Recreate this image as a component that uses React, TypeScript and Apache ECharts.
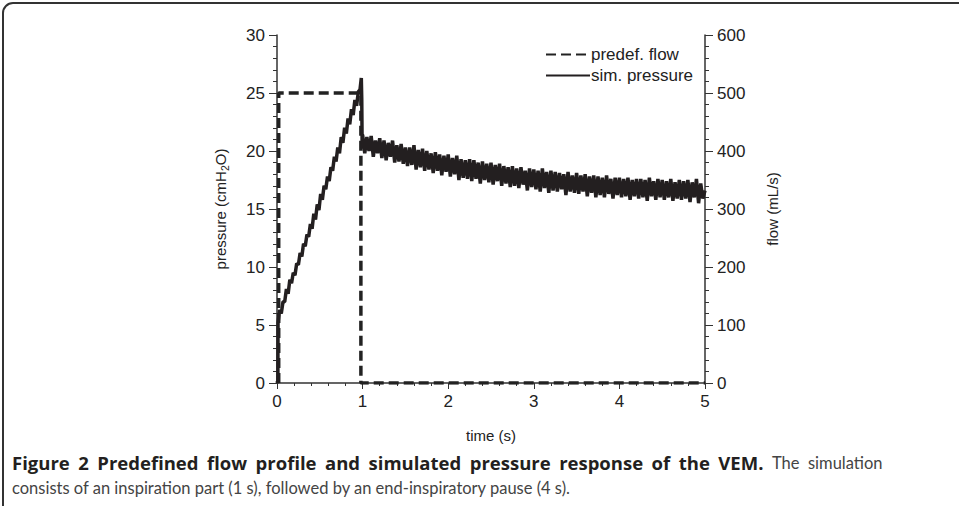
import React, { useEffect, useRef } from "react";
import * as echarts from "echarts";

// time (s) and pressure (cmH2O) during inspiration
const riseTimes = [0, 0.01, 0.012, 0.03, 0.05, 0.07, 0.09, 0.11, 0.13, 0.15, 0.17, 0.19, 0.21, 0.23, 0.25, 0.27, 0.29, 0.31, 0.33, 0.35, 0.37, 0.39, 0.41, 0.43, 0.45, 0.47, 0.49, 0.51, 0.53, 0.55, 0.57, 0.59, 0.61, 0.63, 0.65, 0.67, 0.69, 0.71, 0.73, 0.75, 0.77, 0.79, 0.81, 0.83, 0.85, 0.87, 0.89, 0.91, 0.93, 0.95, 0.97, 0.985, 0.99, 0.995];
const risePressure = [0, 0.2, 5.2, 6.3, 6.0, 7.0, 7.0, 8.1, 7.7, 8.9, 8.6, 9.5, 9.3, 10.3, 10.2, 11.2, 10.9, 12.0, 11.8, 12.8, 12.6, 13.7, 13.3, 14.6, 14.1, 15.4, 14.9, 16.3, 15.8, 17.0, 16.7, 17.8, 17.4, 18.6, 18.3, 19.5, 19.1, 20.3, 19.8, 21.2, 20.7, 22.0, 21.5, 22.8, 22.3, 23.6, 23.1, 24.4, 23.9, 25.1, 25.3, 26.3, 24.5, 20.2];

// pressure (cmH2O) during the end-inspiratory pause, sampled every 0.025 s from 1 s to 5 s
const pauseStart = 1;
const pauseStep = 0.025;
const pausePressure = [
  21.4, 19.8, 21.2, 20.0, 21.3, 19.5, 20.9, 19.8, 21.1, 19.4,
  20.9, 19.2, 20.7, 19.5, 20.9, 19.0, 20.5, 19.1, 20.6, 18.9,
  20.3, 18.7, 20.3, 18.8, 20.5, 18.4, 20.1, 18.6, 20.2, 18.3,
  20.0, 18.4, 19.8, 18.1, 19.9, 18.3, 19.7, 17.9, 19.6, 18.2,
  19.7, 17.8, 19.4, 18.0, 19.6, 17.5, 19.3, 17.7, 19.2, 17.6,
  19.3, 17.4, 19.2, 17.6, 19.0, 17.2, 19.1, 17.5, 18.9, 17.3,
  19.0, 17.1, 18.8, 17.4, 18.9, 17.0, 18.7, 17.2, 18.6, 16.9,
  18.7, 17.0, 18.5, 16.8, 18.6, 17.1, 18.3, 16.6, 18.5, 16.9,
  18.4, 16.7, 18.3, 16.5, 18.5, 16.8, 18.2, 16.4, 18.3, 16.6,
  18.2, 16.5, 18.1, 16.7, 18.0, 16.2, 18.2, 16.5, 17.9, 16.4,
  18.1, 16.3, 17.9, 16.5, 18.0, 16.1, 17.8, 16.4, 17.9, 16.0,
  17.8, 16.2, 17.7, 16.0, 17.9, 16.3, 17.6, 15.9, 17.7, 16.2,
  17.7, 16.0, 17.6, 16.1, 17.7, 15.8, 17.5, 16.1, 17.6, 15.9,
  17.6, 16.0, 17.5, 15.7, 17.7, 16.1, 17.4, 15.8, 17.6, 16.0,
  17.5, 15.8, 17.4, 16.0, 17.6, 15.7, 17.3, 15.9, 17.5, 15.8,
  17.4, 15.9, 17.5, 15.6, 17.3, 16.0, 17.6, 15.5, 17.2, 15.9,
  16.6,
];

// predefined flow profile (mL/s)
const flowTimes = [0.02, 0.02, 0.98, 0.98, 5];
const flowValues = [0, 500, 500, 0, 0];

const xTicks = { min: 0, max: 5, interval: 1 };
const leftTicks = { min: 0, max: 30, interval: 5 };
const rightTicks = { min: 0, max: 600, interval: 100 };

const seriesNames = ["predef. flow", "sim. pressure"];

const captionBold = "Figure 2 Predefined flow profile and simulated pressure response of the VEM.";
const captionRest1 = "The simulation";
const captionLine2 = "consists of an inspiration part (1 s), followed by an end-inspiratory pause (4 s).";

export default function App() {
  const ref = useRef<HTMLDivElement>(null);
  useEffect(() => {
    if (!ref.current) return;
    const chart = echarts.init(ref.current, null, { renderer: "svg" });
    const pressureData: number[][] = riseTimes.map((t, i) => [t, risePressure[i]]);
    pausePressure.forEach((p, i) => pressureData.push([pauseStart + i * pauseStep, p]));
    const flowData = flowTimes.map((t, i) => [t, flowValues[i]]);
    const axisColor = "#333";
    const font = "'Liberation Sans', Arial, sans-serif";
    const labelStyle = { color: "#222", fontSize: 17, fontFamily: font };
    const nameStyle = { color: "#222", fontSize: 15, fontFamily: font };
    // justified first caption line: words joined by space tokens of fixed width
    const boldWords = captionBold.split(" ").map((w) => "{b|" + w + "}");
    const normWords = captionRest1.split(" ").map((w) => "{n|" + w + "}");
    const line1 = [...boldWords, ...normWords].join("{s| }");
    chart.setOption({
      animation: false,
      backgroundColor: "#fff",
      grid: { left: 277, top: 35, width: 428, height: 348 },
      legend: {
        data: seriesNames,
        orient: "vertical",
        left: 540,
        top: 41,
        itemWidth: 44,
        itemHeight: 14,
        itemGap: 4,
        itemStyle: { opacity: 0 },
        textStyle: { color: "#222", fontSize: 17, fontFamily: font, padding: [0, 0, 0, -4] },
      },
      xAxis: {
        type: "value",
        ...xTicks,
        name: "time (s)",
        nameLocation: "middle",
        nameGap: 45,
        nameTextStyle: nameStyle,
        axisLine: { show: true, lineStyle: { color: axisColor, width: 1.5 } },
        axisTick: { show: true, length: 6, lineStyle: { color: axisColor } },
        minorTick: { show: true, splitNumber: 5, length: 3, lineStyle: { color: axisColor } },
        splitLine: { show: false },
        axisLabel: { ...labelStyle, margin: 10 },
      },
      yAxis: [
        {
          type: "value",
          position: "left",
          ...leftTicks,
          name: "pressure (cmH{sub|2}O)",
          nameLocation: "middle",
          nameRotate: 90,
          nameGap: 47,
          nameTextStyle: {
            ...nameStyle,
            rich: { sub: { fontSize: 10.5, fontFamily: font, color: "#222", verticalAlign: "bottom", padding: [8, 0, 0, 0] } },
          },
          axisLine: { show: true, lineStyle: { color: axisColor, width: 1.5 } },
          axisTick: { show: true, length: 8, lineStyle: { color: axisColor } },
          minorTick: { show: true, splitNumber: 5, length: 4, lineStyle: { color: axisColor } },
          splitLine: { show: false },
          axisLabel: { ...labelStyle, margin: 12 },
        },
        {
          type: "value",
          position: "right",
          ...rightTicks,
          name: "flow (mL/s)",
          nameLocation: "middle",
          nameRotate: 90,
          nameGap: 60,
          nameTextStyle: nameStyle,
          axisLine: { show: true, lineStyle: { color: axisColor, width: 1.5 } },
          axisTick: { show: true, length: 8, lineStyle: { color: axisColor } },
          minorTick: { show: true, splitNumber: 5, length: 4, lineStyle: { color: axisColor } },
          splitLine: { show: false },
          axisLabel: { ...labelStyle, margin: 12 },
        },
      ],
      series: [
        {
          name: seriesNames[0],
          type: "line",
          yAxisIndex: 1,
          data: flowData,
          symbol: "none",
          z: 2,
          lineStyle: { color: "#222", width: 3.5, type: [10, 5] },
        },
        {
          name: seriesNames[1],
          type: "line",
          yAxisIndex: 0,
          data: pressureData,
          symbol: "none",
          z: 3,
          lineStyle: { color: "#231f20", width: 3.5 },
        },
      ],
      graphic: [
        {
          type: "rect",
          shape: { x: 3, y: 3, width: 1400, height: 1000, r: 10 },
          style: { fill: "none", stroke: "#333", lineWidth: 2 },
          silent: true,
        },
        {
          type: "text",
          left: 12,
          top: 453,
          style: {
            text: line1 + "\n{n|" + captionLine2 + "}",
            rich: {
              b: { fontFamily: "'Open Sans', sans-serif", fontWeight: "bold", fontSize: 18.5, fill: "#231f20", lineHeight: 25 },
              n: { fontFamily: "Lato, sans-serif", fontSize: 16.5, fill: "#444", lineHeight: 25 },
              s: { fontFamily: "Lato, sans-serif", fontSize: 16.5, width: 8.5, lineHeight: 25 },
            },
          },
        },
      ],
    });
    return () => chart.dispose();
  }, []);
  return <div ref={ref} style={{ position: "fixed", left: 0, top: 0, width: 959, height: 506 }} />;
}
